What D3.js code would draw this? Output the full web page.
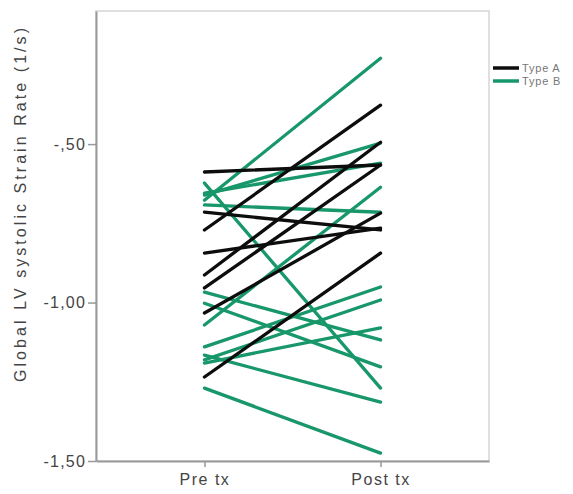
<!DOCTYPE html>
<html lang="en">
<head>
    <meta charset="UTF-8">
    <title>Global LV systolic Strain Rate</title>
    <script src="https://d3js.org/d3.v7.min.js"></script>
    <style>
        body { margin: 0; background: #fff; font-family: "Liberation Sans", Arial, sans-serif; }
        svg text { fill: #444; }
    </style>
</head>
<body>
    <div id="chart"></div>

    <script>
        // Time points and tick labels
        const timepoints = ['Pre tx', 'Post tx'];
        const yTicks = [-0.5, -1.0, -1.5];
        const yTickLabels = ['-,50', '-1,00', '-1,50'];
        const groups = ['Type A', 'Type B'];

        // One [pre, post] pair per patient
        const typeA = [
            [-0.588, -0.566],
            [-0.715, -0.771],
            [-0.771, -0.377],
            [-0.844, -0.765],
            [-0.913, -0.494],
            [-0.954, -0.566],
            [-1.033, -0.718],
            [-1.235, -0.844]
        ];
        const typeB = [
            [-0.623, -1.270],
            [-0.677, -0.229],
            [-0.661, -0.497],
            [-0.692, -0.715],
            [-0.655, -0.560],
            [-0.967, -1.118],
            [-1.002, -1.203],
            [-1.071, -0.636],
            [-1.140, -0.951],
            [-1.166, -1.314],
            [-1.181, -0.992],
            [-1.191, -1.080],
            [-1.270, -1.475]
        ];

        const colors = { 'Type A': '#0d0d0d', 'Type B': '#18976a' };

        const width = 573, height = 494;
        const m = { left: 96, right: 489, top: 11, bottom: 461 };

        const svg = d3.select('#chart').append('svg')
            .attr('width', width)
            .attr('height', height);

        const x = d3.scalePoint()
            .domain(timepoints)
            .range([m.left, m.right])
            .padding(0.616);

        const y = d3.scaleLinear()
            .domain([-1.5, -0.08])
            .range([m.bottom, m.top]);

        // frame
        svg.append('rect')
            .attr('x', m.left).attr('y', m.top)
            .attr('width', m.right - m.left).attr('height', m.bottom - m.top)
            .attr('fill', 'none')
            .attr('stroke', '#d6d6d6')
            .attr('stroke-width', 1.5);

        // lines
        const drawGroup = (data, name) => {
            svg.append('g').selectAll('line')
                .data(data)
                .enter().append('line')
                .attr('x1', x('Pre tx'))
                .attr('x2', x('Post tx'))
                .attr('y1', d => y(d[0]))
                .attr('y2', d => y(d[1]))
                .attr('stroke', colors[name])
                .attr('stroke-width', 3.3)
                .attr('stroke-linecap', 'round');
        };
        drawGroup(typeB, 'Type B');
        drawGroup(typeA, 'Type A');

        // y axis
        const yAxis = svg.append('g')
            .attr('transform', `translate(${m.left},0)`)
            .call(d3.axisLeft(y).tickValues(yTicks).tickSize(8).tickSizeOuter(0)
                .tickFormat((d, i) => yTickLabels[i]));
        yAxis.select('.domain').attr('stroke', '#999').attr('stroke-width', 2);
        yAxis.selectAll('.tick line').attr('stroke', '#999').attr('stroke-width', 1.5);
        yAxis.selectAll('.tick text')
            .attr('x', -10)
            .attr('font-size', 16)
            .attr('letter-spacing', 1.2)
            .attr('font-family', '"Liberation Sans", Arial, sans-serif')
            .style('fill', '#444');

        // x axis
        const xAxis = svg.append('g')
            .attr('transform', `translate(0,${m.bottom})`)
            .call(d3.axisBottom(x).tickSize(6).tickSizeOuter(0));
        xAxis.select('.domain').attr('stroke', '#999').attr('stroke-width', 2);
        xAxis.selectAll('.tick line').attr('stroke', '#999').attr('stroke-width', 1.5);
        xAxis.selectAll('.tick text')
            .attr('y', 13)
            .attr('font-size', 16)
            .attr('letter-spacing', 1.5)
            .attr('font-family', '"Liberation Sans", Arial, sans-serif')
            .style('fill', '#444');

        // y title
        svg.append('text')
            .attr('transform', `translate(26,205) rotate(-90)`)
            .attr('text-anchor', 'middle')
            .attr('font-size', 16)
            .attr('textLength', 354)
            .attr('lengthAdjust', 'spacing')
            .text('Global LV systolic Strain Rate (1/s)');

        // legend
        const legend = svg.append('g')
            .attr('transform', 'translate(493,68)');
        groups.forEach((g, i) => {
            const row = legend.append('g').attr('transform', `translate(0,${i * 13})`);
            row.append('line')
                .attr('x1', 0).attr('x2', 26)
                .attr('stroke', colors[g])
                .attr('stroke-width', 3.5);
            row.append('text')
                .attr('x', 29).attr('y', 4)
                .attr('font-size', 11)
                .attr('letter-spacing', 0.8)
                .style('fill', '#777')
                .text(g);
        });
    </script>
</body>
</html>
